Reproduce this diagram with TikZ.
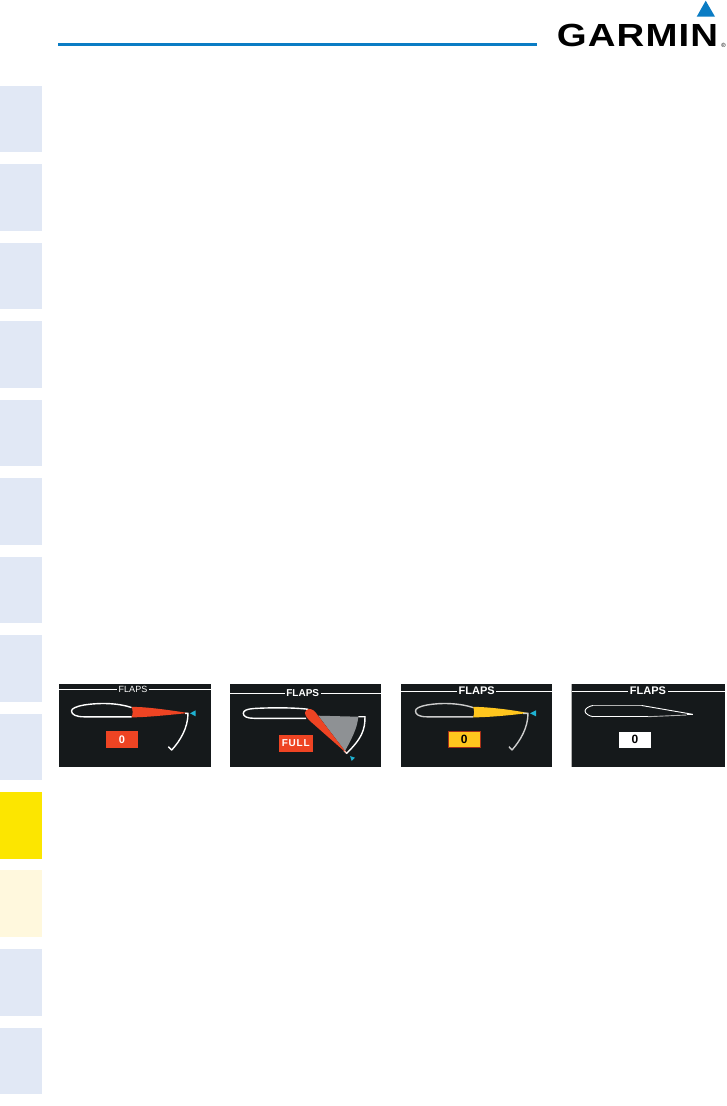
\documentclass[tikz,border=0pt]{standalone}
\usepackage{fontspec}
\setmainfont{Liberation Sans}
\definecolor{tabblue}{HTML}{E1E8F5}
\definecolor{tabyellow}{HTML}{FCE600}
\definecolor{tabcream}{HTML}{FFF8DD}
\definecolor{garminblue}{HTML}{0A7CC4}
\definecolor{panelbg}{HTML}{15191B}
\definecolor{alertred}{HTML}{EE4423}
\definecolor{alertyellow}{HTML}{FFC61E}
\definecolor{cyanmark}{HTML}{1FB2D2}
\definecolor{flapgrey}{HTML}{8E9194}
\tikzset{
  x=1pt,y=-1pt,
  tabbox/.style={fill=tabblue,draw=none},
  panel/.style={fill=panelbg,draw=none},
  rule/.style={draw=white,line width=1pt},
  flapstext/.style={fill=panelbg,text=white,inner xsep=1.5pt,inner ysep=0pt},
  outline/.style={draw=white,line width=1.4pt,line join=round},
  greyoutline/.style={draw=white!80!black,line width=1.4pt,line join=round},
  valuebox/.style={inner sep=0pt,anchor=center},
  marker/.style={fill=cyanmark,draw=none},
}
\newcommand{\tabrect}[3]{\fill[#3] (0,#1) rectangle (42,#2);}
\newcommand{\fsz}[1]{\fontsize{#1}{#1}\selectfont}
\begin{document}
\begin{tikzpicture}
\useasboundingbox (0,0) rectangle (727,1106);
\fill[white] (0,0) rectangle (727,1106);
% side tabs
\tabrect{86}{152}{tabbox}
\tabrect{164}{231}{tabbox}
\tabrect{243}{309}{tabbox}
\tabrect{321}{388}{tabbox}
\tabrect{400}{466}{tabbox}
\tabrect{478}{545}{tabbox}
\tabrect{557}{623}{tabbox}
\tabrect{635}{702}{tabbox}
\tabrect{714}{780}{tabbox}
\tabrect{792}{859}{fill=tabyellow}
\tabrect{870}{937}{fill=tabcream}
\tabrect{949}{1016}{tabbox}
\tabrect{1028}{1094}{tabbox}
% header
\fill[garminblue] (58,43.3) rectangle (537,46);
\fill[garminblue] (705.7,0.7) -- (715,16.7) -- (696.7,16.7) -- cycle;
\node[inner sep=0pt,anchor=center,xscale=1.2,font=\bfseries\fsz{32},text=black] (logo) at (637.5,35.6) {\addfontfeature{LetterSpace=3}GARMIN};
\node[inner sep=0pt,font=\fsz{6},text=black] (reg) at (723.6,45) {®};
% panel 1
\fill[panel] (59,684) rectangle (211,767);
\draw[rule] (59,689) -- (211,689);
\node[flapstext,font=\fsz{9}] (f1) at (133,689) {FLAPS};
\fill[alertred] (131.5,707) .. controls (140,706.5) and (160,708.5) .. (188,713) .. controls (160,716) and (140,717.5) .. (131.5,717.3) .. controls (133,714) and (133,710) .. (131.5,707) -- cycle;
\draw[outline] (131.5,707.5) .. controls (118,703) and (100,702.5) .. (84,705) .. controls (76,706.5) and (71.5,708.5) .. (71.5,711) .. controls (71.5,714.5) and (76,716.8) .. (84,716.8) -- (131.5,716.8);
\draw[outline] (185,713.3) -- (188,713.3) .. controls (188,728) and (180,741) .. (171.7,750) -- (168.3,746.7);
\fill[marker] (195.7,710.3) -- (195.7,716.3) -- (190,713.3) -- cycle;
\node[valuebox,fill=alertred,text=white,font=\bfseries\fsz{11},minimum width=32pt,minimum height=16.7pt] (v1) at (122,739.3) {0};
% panel 2
\fill[panel] (230,684) rectangle (381,767);
\draw[rule] (230,693.3) -- (381,693.3);
\node[flapstext,font=\bfseries\fsz{10}] (f2) at (302.7,693.3) {FLAPS};
\fill[flapgrey] (318.3,715.7) -- (358.3,716.7) .. controls (357.5,725) and (355,733) .. (345,751) -- cycle;
\draw[outline] (358.3,716.7) -- (365,716.7) .. controls (365,730) and (362,738) .. (346.7,753.3) -- (344,750.5);
\draw[outline] (308.3,709.3) .. controls (295,707.5) and (270,707.5) .. (254,708.5) .. controls (247,709) and (243.3,710.5) .. (243.3,713.3) .. controls (243.3,716.5) and (247,718.3) .. (254,718.3) -- (306,718.3);
\fill[alertred] (306,710.5) .. controls (309,707.5) and (313,709) .. (316,713) -- (346.7,753.3) -- (310,721) .. controls (305,716) and (304,713) .. (306,710.5) -- cycle;
\fill[marker] (350,756) -- (355,757.7) -- (351.7,761) -- cycle;
\node[valuebox,fill=alertred,text=white,font=\bfseries\fsz{10},minimum width=33.7pt,minimum height=16.7pt] (v2) at (295.8,743.3) {\addfontfeature{LetterSpace=8}FULL};
% panel 3
\fill[panel] (401,684) rectangle (552,767);
\draw[rule] (401,691) -- (552,691);
\node[flapstext,font=\bfseries\fsz{11}] (f3) at (476.7,691) {FLAPS};
\fill[alertyellow] (473,707) .. controls (480,706.5) and (505,708.5) .. (528,713) .. controls (505,716) and (482,717.5) .. (473,717.3) .. controls (474.5,714) and (474.5,710) .. (473,707) -- cycle;
\draw[greyoutline] (473,707.5) .. controls (459,703) and (441,702.5) .. (427,705) .. controls (419,706.5) and (415.5,708.5) .. (415.5,711) .. controls (415.5,714.5) and (419,716.8) .. (427,716.8) -- (473,716.8);
\draw[greyoutline] (523,713.3) -- (528,713.3) .. controls (528,728) and (520,741) .. (512,750) -- (509,746.7);
\fill[marker] (536,710.3) -- (536,716.3) -- (530,713.3) -- cycle;
\node[valuebox,fill=alertyellow,draw=black!30!alertred,line width=0.5pt,text=black,font=\bfseries\fsz{12},minimum width=32pt,minimum height=16.2pt] (v3) at (464.3,739.3) {0};
% panel 4
\fill[panel] (571.5,684) rectangle (724.7,767);
\fill[white!70!black] (571,684) rectangle (572,767);
\draw[rule] (571.5,691) -- (724.7,691);
\node[flapstext,font=\bfseries\fsz{11}] (f4) at (648,691) {FLAPS};
\draw[draw=white,line width=0.9pt,line join=round] (593,716.7) .. controls (589,716) and (585,713.5) .. (585,711) .. controls (585,708.5) and (589,706) .. (593,705.5);
\draw[draw=white,line width=0.9pt,line join=round] (593,716.7) -- (648,716.7);
\draw[draw=white!70!black,line width=0.9pt] (648,716.7) -- (686.7,715);
\draw[draw=white!70!black,line width=0.9pt] (593,705.5) -- (641.7,705.5);
\draw[draw=white,line width=0.9pt] (641.7,705.5) -- (692.7,714.3);
\draw[draw=white,line width=0.9pt] (686.7,714.3) -- (692.7,714.3);
\node[valuebox,fill=white,text=black,font=\bfseries\fsz{12},minimum width=31.4pt,minimum height=16pt] (v4) at (635,739.7) {0};
\end{tikzpicture}
\end{document}
